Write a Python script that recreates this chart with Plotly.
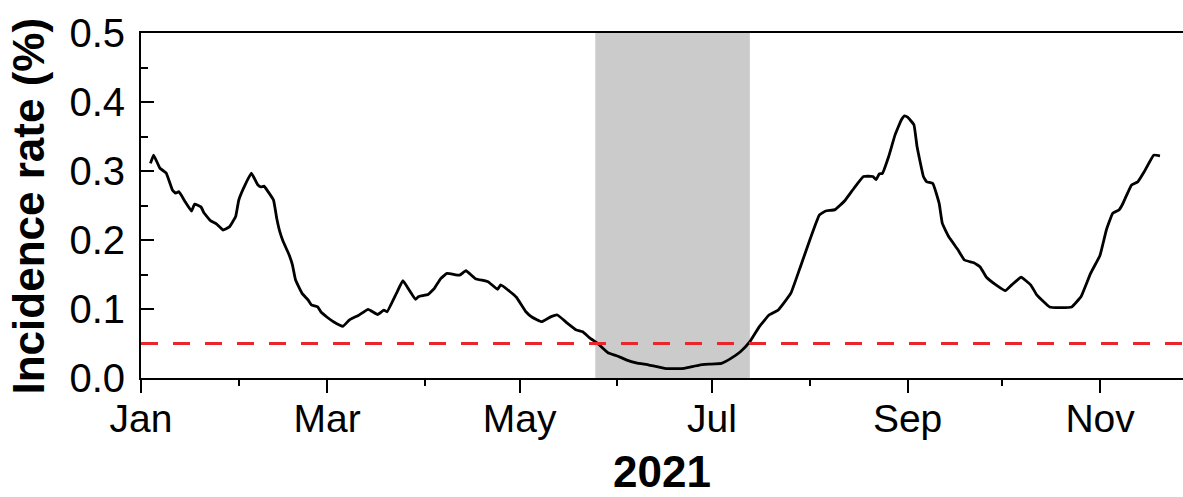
import pandas as pd
import plotly.graph_objects as go

# Daily incidence rate (%) in 2021; days counted from 1 January
day_offsets = [
    3, 4, 6, 8, 10, 11, 12, 14, 16, 17, 19, 20, 22, 24, 26, 28, 30, 31, 33, 35,
    37, 38, 39, 40, 42, 43, 44, 45, 47, 48, 49, 51, 53, 54, 56, 57, 59, 61, 64,
    66, 67, 69, 72, 75, 77, 78, 81, 83, 85, 87, 88, 91, 93, 95, 97, 101, 103,
    106, 110, 113, 114, 117, 119, 122, 124, 127, 130, 132, 135, 138, 140, 142,
    145, 148, 151, 154, 157, 161, 166, 169, 172, 177, 180, 184, 187, 190, 193,
    196, 199, 202, 206, 209, 212, 215, 217, 220, 223, 226, 229, 232, 233, 234,
    235, 237, 239, 241, 242, 243, 245, 246, 248, 249, 251, 253, 254, 256, 259,
    261, 264, 266, 268, 271, 274, 276, 279, 282, 284, 288, 291, 295, 298, 301,
    304, 306, 308, 310, 311, 314, 316, 318, 321, 323,
]
incidence = [
    0.311, 0.323, 0.304, 0.297, 0.272, 0.268, 0.270, 0.2555, 0.242, 0.252,
    0.248, 0.239, 0.228, 0.223, 0.2145, 0.219, 0.234, 0.258, 0.280, 0.297,
    0.280, 0.277, 0.278, 0.272, 0.258, 0.232, 0.212, 0.1985, 0.178, 0.164,
    0.142, 0.123, 0.113, 0.106, 0.103, 0.096, 0.088, 0.0816, 0.075,
    0.084, 0.0865, 0.091, 0.0995, 0.092, 0.0985, 0.096, 0.123, 0.141, 0.1275,
    0.114, 0.118, 0.121, 0.130, 0.144, 0.1516, 0.149, 0.1555,
    0.144, 0.1396, 0.1285, 0.1348, 0.125, 0.117, 0.096, 0.088, 0.0816, 0.0889,
    0.0913, 0.080, 0.0696, 0.067, 0.059,
    0.049, 0.0367, 0.0319, 0.026, 0.022, 0.0188, 0.014, 0.0135, 0.014, 0.0188,
    0.020, 0.0213, 0.0285, 0.038, 0.0526,
    0.0744, 0.091, 0.0986, 0.123, 0.161, 0.200, 0.236, 0.242, 0.244, 0.2565,
    0.275, 0.292, 0.292, 0.2875, 0.2957,
    0.2966, 0.321, 0.352, 0.374, 0.380, 0.378, 0.367, 0.335, 0.292, 0.2845,
    0.282, 0.253, 0.224, 0.205, 0.1855,
    0.171, 0.167, 0.161, 0.146, 0.135, 0.1265, 0.135, 0.146, 0.135, 0.120,
    0.103, 0.102, 0.103, 0.118, 0.1516,
    0.178, 0.2145, 0.2386, 0.2435, 0.2507, 0.2797, 0.2845, 0.299, 0.323, 0.322,
]

threshold = 0.05                        # reference incidence level
shaded_start, shaded_end = "2021-05-25", "2021-07-13"
year_label = "2021"
y_title = "Incidence rate (%)"

dates = pd.Timestamp("2021-01-01") + pd.to_timedelta(day_offsets, unit="D")

FONT = "Liberation Sans, Arial, sans-serif"
BLACK = "#000000"

fig = go.Figure()
fig.add_trace(go.Scatter(
    x=dates, y=incidence, mode="lines",
    line=dict(color=BLACK, width=2.8, shape="spline", smoothing=0.3),
    hoverinfo="x+y", showlegend=False,
))

fig.add_vrect(x0=shaded_start, x1=shaded_end, fillcolor="#cbcbcb",
              line_width=0, layer="below")

fig.add_shape(type="line", xref="paper", x0=0, x1=1, yref="y",
              y0=threshold, y1=threshold, layer="above",
              line=dict(color="#e8262b", width=3, dash="17px,15px"))

# Rotated y-axis title, placed just left of the tick labels
fig.add_annotation(
    text=f"<b>{y_title}</b>", textangle=-90, showarrow=False,
    xref="paper", yref="paper", x=-0.1075, y=0.5,
    xanchor="center", yanchor="middle",
    font=dict(size=44, family=FONT, color=BLACK),
)

fig.update_layout(
    width=1183, height=497,
    margin=dict(l=141, r=0, t=33, b=119),
    paper_bgcolor="white", plot_bgcolor="white",
    font=dict(family=FONT, color=BLACK),
)

fig.update_xaxes(
    type="date",
    range=["2021-01-01", "2021-11-27 07:00"],
    tick0="2021-01-01", dtick="M2", tickformat="%b",
    ticks="outside", ticklen=13, tickwidth=2, tickcolor=BLACK,
    minor=dict(tick0="2021-01-01", dtick="M1", ticks="outside",
               ticklen=6, tickwidth=2, tickcolor=BLACK, showgrid=False),
    showline=True, linecolor=BLACK, linewidth=2, mirror=True,
    showgrid=False, zeroline=False,
    ticklabelstandoff=-8,
    tickfont=dict(size=39, family=FONT, color=BLACK),
    title=dict(text=f"<b>{year_label}</b>", standoff=17,
               font=dict(size=44, family=FONT, color=BLACK)),
)

fig.update_yaxes(
    range=[0, 0.5], tick0=0, dtick=0.1, tickformat=".1f",
    ticks="inside", ticklen=13, tickwidth=2, tickcolor=BLACK,
    minor=dict(dtick=0.05, ticks="inside", ticklen=7, tickwidth=2,
               tickcolor=BLACK, showgrid=False),
    showline=True, linecolor=BLACK, linewidth=2, mirror=False,
    showgrid=False, zeroline=False,
    ticklabelstandoff=6,
    tickfont=dict(size=40, family=FONT, color=BLACK),
)

fig.write_html("out.html")
